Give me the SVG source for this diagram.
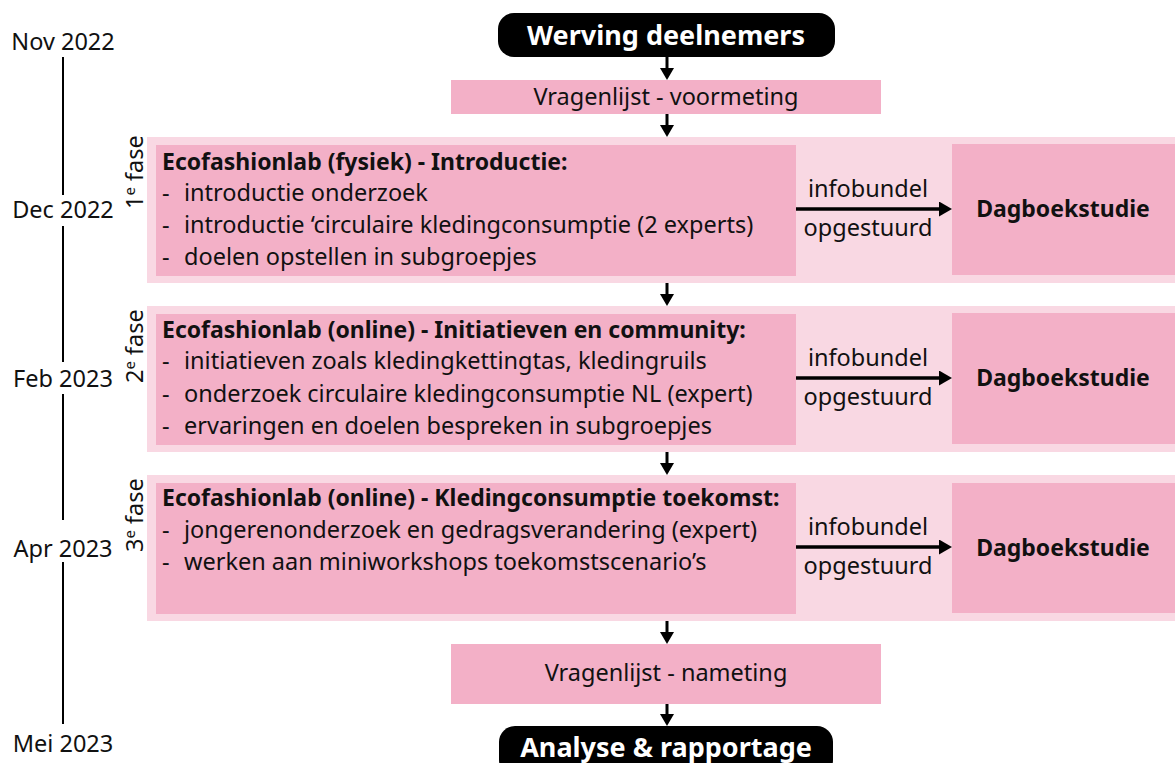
<svg xmlns="http://www.w3.org/2000/svg" width="1175" height="763" viewBox="0 0 1175 763">
<defs>
<marker id="ah" viewBox="0 0 14 12" refX="7" refY="6" markerWidth="14" markerHeight="12" markerUnits="userSpaceOnUse" orient="0">
<path d="M0,0 L14,0 L7,12 Z" fill="#000"/>
</marker>
<marker id="ahd" viewBox="0 0 13 15" refX="7" refY="7.5" markerWidth="13" markerHeight="15" markerUnits="userSpaceOnUse" orient="0">
<path d="M0,0 L13,7.5 L0,15 Z" fill="#000"/>
</marker>
</defs>
<style>
text{font-family:"Noto Sans","Open Sans","Liberation Sans",sans-serif;fill:#111;}
.t{font-size:23.5px;}
.b{font-size:23px;font-weight:bold;}
.d{font-size:23px;font-weight:bold;}
.w{font-size:27px;font-weight:bold;fill:#fff;}
.c{text-anchor:middle;}
.light{fill:#f9d8e3;}
.pink{fill:#f3b0c7;}
.pill{fill:#000;}
.conn line{stroke:#000;stroke-width:3;}
.conn line.h{stroke-width:3.5;}
.tl{stroke:#000;stroke-width:2;}
</style>

<g id="timeline">
<line class="tl" x1="63" y1="57" x2="63" y2="195"/>
<line class="tl" x1="63" y1="226" x2="63" y2="362"/>
<line class="tl" x1="63" y1="394" x2="63" y2="520"/>
<line class="tl" x1="63" y1="562" x2="63" y2="724"/>
<text class="t c" x="63" y="50">Nov 2022</text>
<text class="t c" x="63" y="218">Dec 2022</text>
<text class="t c" x="63" y="387">Feb 2023</text>
<text class="t c" x="63" y="557">Apr 2023</text>
<text class="t c" x="63" y="752">Mei 2023</text>
</g>

<g id="werving">
<rect class="pill" x="498" y="13" width="337" height="44" rx="16"/>
<text class="w c" x="666" y="45">Werving deelnemers</text>
</g>

<g id="voormeting">
<rect class="pink" x="451" y="80" width="430" height="34"/>
<text class="t c" x="666" y="105">Vragenlijst - voormeting</text>
</g>

<g id="fase1">
<rect class="light" x="147" y="137" width="1028" height="146"/>
<rect class="pink" x="156" y="145" width="640" height="131"/>
<text class="t" transform="translate(143,209) rotate(-90)">1<tspan dy="-8" font-size="15">e</tspan><tspan dy="8"> fase</tspan></text>
<text class="b" x="162" y="170">Ecofashionlab (fysiek) - Introductie:</text>
<text class="t" x="162" y="201">-</text><text class="t" x="184" y="201">introductie onderzoek</text>
<text class="t" x="162" y="233">-</text><text class="t" x="184" y="233">introductie ‘circulaire kledingconsumptie (2 experts)</text>
<text class="t" x="162" y="265">-</text><text class="t" x="184" y="265">doelen opstellen in subgroepjes</text>
<text class="t c" x="868" y="197">infobundel</text>
<text class="t c" x="868" y="236">opgestuurd</text>
</g>
<g id="dagboek1">
<rect class="pink" x="952" y="144" width="223" height="131"/>
<text class="d c" x="1063" y="217">Dagboekstudie</text>
</g>

<g id="fase2">
<rect class="light" x="147" y="306" width="1028" height="146"/>
<rect class="pink" x="156" y="314" width="640" height="131"/>
<text class="t" transform="translate(143,383) rotate(-90)">2<tspan dy="-8" font-size="15">e</tspan><tspan dy="8"> fase</tspan></text>
<text class="b" x="162" y="338">Ecofashionlab (online) - Initiatieven en community:</text>
<text class="t" x="162" y="369">-</text><text class="t" x="184" y="369">initiatieven zoals kledingkettingtas, kledingruils</text>
<text class="t" x="162" y="402">-</text><text class="t" x="184" y="402">onderzoek circulaire kledingconsumptie NL (expert)</text>
<text class="t" x="162" y="434">-</text><text class="t" x="184" y="434">ervaringen en doelen bespreken in subgroepjes</text>
<text class="t c" x="868" y="366">infobundel</text>
<text class="t c" x="868" y="405">opgestuurd</text>
</g>
<g id="dagboek2">
<rect class="pink" x="952" y="313" width="223" height="131"/>
<text class="d c" x="1063" y="386">Dagboekstudie</text>
</g>

<g id="fase3">
<rect class="light" x="147" y="475" width="1028" height="146"/>
<rect class="pink" x="156" y="483" width="640" height="131"/>
<text class="t" transform="translate(143,552) rotate(-90)">3<tspan dy="-8" font-size="15">e</tspan><tspan dy="8"> fase</tspan></text>
<text class="b" x="162" y="506">Ecofashionlab (online) - Kledingconsumptie toekomst:</text>
<text class="t" x="162" y="538">-</text><text class="t" x="184" y="538">jongerenonderzoek en gedragsverandering (expert)</text>
<text class="t" x="162" y="570">-</text><text class="t" x="184" y="570">werken aan miniworkshops toekomstscenario’s</text>
<text class="t c" x="868" y="535">infobundel</text>
<text class="t c" x="868" y="574">opgestuurd</text>
</g>
<g id="dagboek3">
<rect class="pink" x="952" y="483" width="223" height="130"/>
<text class="d c" x="1063" y="556">Dagboekstudie</text>
</g>

<g id="nameting">
<rect class="pink" x="451" y="644" width="430" height="60"/>
<text class="t c" x="666" y="681">Vragenlijst - nameting</text>
</g>

<g id="analyse">
<rect class="pill" x="499" y="726" width="334" height="50" rx="16"/>
<text class="w c" x="666" y="757">Analyse &amp; rapportage</text>
</g>

<g class="conn" id="connectors">
<line x1="667" y1="57" x2="667" y2="74" marker-end="url(#ah)"/>
<line x1="667" y1="114" x2="667" y2="131" marker-end="url(#ah)"/>
<line x1="667" y1="283" x2="667" y2="300" marker-end="url(#ah)"/>
<line x1="667" y1="452" x2="667" y2="469" marker-end="url(#ah)"/>
<line x1="667" y1="621" x2="667" y2="638" marker-end="url(#ah)"/>
<line x1="667" y1="704" x2="667" y2="720" marker-end="url(#ah)"/>
<line class="h" x1="796" y1="209" x2="946" y2="209" marker-end="url(#ahd)"/>
<line class="h" x1="796" y1="378" x2="946" y2="378" marker-end="url(#ahd)"/>
<line class="h" x1="796" y1="547" x2="946" y2="547" marker-end="url(#ahd)"/>
</g>
</svg>
